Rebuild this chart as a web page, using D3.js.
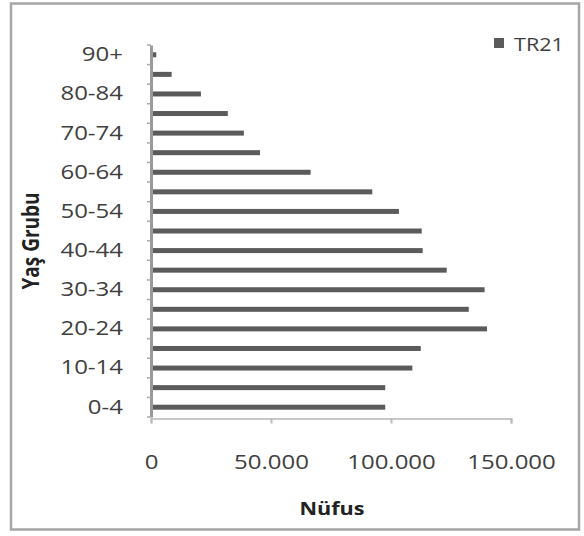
<!DOCTYPE html>
<html><head><meta charset="utf-8">
<script src="https://cdn.jsdelivr.net/npm/d3@7"></script>
<style>body{margin:0;background:#fff}svg{display:block}</style>
</head><body>
<script>
const categories = ["0-4","5-9","10-14","15-19","20-24","25-29","30-34","35-39","40-44","45-49","50-54","55-59","60-64","65-69","70-74","75-79","80-84","85-89","90+"];
const values = [97600,97600,108900,112400,140000,132400,139000,123200,113200,112800,103300,92200,66500,45400,38700,32000,20800,8600,2200];
const xTicks = [0,50000,100000,150000];
const seriesName = "TR21";
const xTitle = "Nüfus";
const yTitle = "Yaş Grubu";

const W=584,H=536;
const SX=1.2; // horizontal stretch of the text, as in the reference
const svg=d3.select("body").append("svg").attr("width",W).attr("height",H);
const font="'Open Sans', sans-serif";
svg.append("rect").attr("x",11).attr("y",3.5).attr("width",568).attr("height",526).attr("fill","#fff").attr("stroke","#a6a6a6").attr("stroke-width",2.5);

const x=d3.scaleLinear().domain([0,150000]).range([151,511]);
const y=d3.scaleBand().domain(categories).range([417,45]).paddingInner(0).paddingOuter(0);

// bars
svg.append("g").selectAll("rect").data(values).join("rect")
  .attr("x",x(0)).attr("y",(d,i)=>y(categories[i])+y.bandwidth()/2-2.5)
  .attr("width",d=>x(d)-x(0)).attr("height",5).attr("fill","#5b5b5b");

// x axis
const gx=svg.append("g").attr("transform","translate(0,418.5)");
gx.call(d3.axisBottom(x).tickValues(xTicks).tickSize(5).tickFormat(d=>d3.format(",")(d).replace(/,/g,".")));
gx.select(".domain").attr("stroke","#c8c8c8").attr("stroke-width",2);
gx.selectAll(".tick line").attr("stroke","#bbb").attr("stroke-width",2);
gx.selectAll(".tick text").attr("font-family",font).attr("font-size",20).attr("fill","#404040")
  .attr("y",51).attr("dy",0).attr("transform",`scale(${SX},1)`).attr("x",0);

// y axis
const gy=svg.append("g").attr("transform","translate(151,0)");
gy.call(d3.axisLeft(y).tickSize(0).tickPadding(28).tickFormat((d,i)=>i%2===0?d:""));
gy.select(".domain").attr("stroke","#9a9a9a").attr("stroke-width",3);
gy.selectAll(".tick text").attr("font-family",font).attr("font-size",20).attr("fill","#404040")
  .attr("x",-28/SX).attr("transform",`scale(${SX},1)`);
gy.append("g").selectAll("line").data(categories.concat(["_end"])).join("line")
  .attr("x1",-4).attr("x2",0)
  .attr("y1",(d,i)=>y.range()[0]-i*y.step()).attr("y2",(d,i)=>y.range()[0]-i*y.step())
  .attr("stroke","#aaa").attr("stroke-width",1.5);

// titles
svg.append("text").attr("transform",`translate(332,515) scale(${SX},1)`).attr("text-anchor","middle").attr("font-family",font).attr("font-weight","bold").attr("font-size",18).attr("fill","#222").text(xTitle);
svg.append("text").attr("transform",`translate(39,241) rotate(-90) scale(1,${SX})`).attr("text-anchor","middle").attr("font-family",font).attr("font-weight","bold").attr("font-size",19).attr("fill","#222").text(yTitle);

// legend
svg.append("rect").attr("x",494).attr("y",38).attr("width",10).attr("height",10).attr("fill","#5b5b5b");
svg.append("text").attr("transform",`translate(514,51) scale(${SX},1)`).attr("font-family",font).attr("font-size",18).attr("fill","#404040").text(seriesName);
</script>
</body></html>
